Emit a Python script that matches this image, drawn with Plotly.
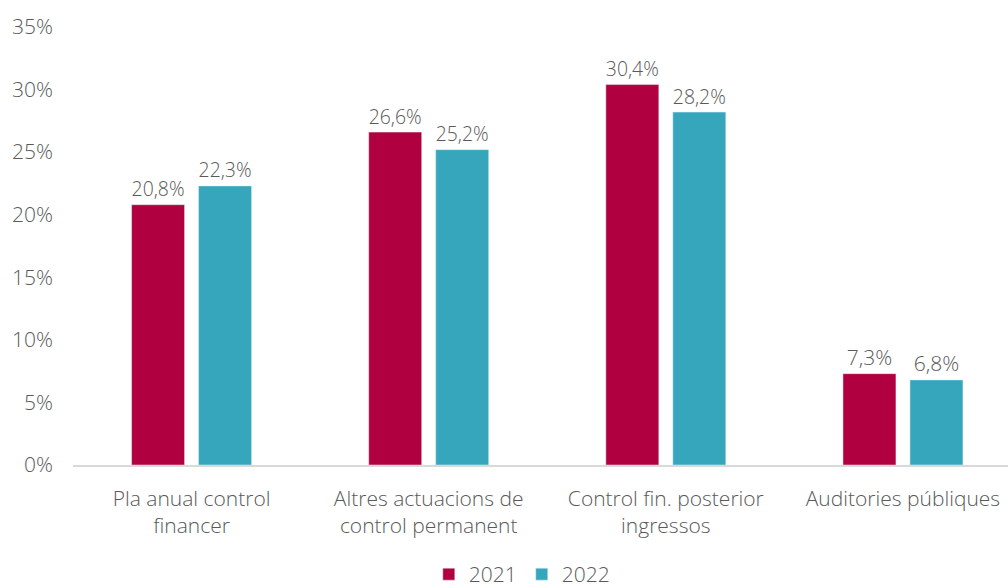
import plotly.graph_objects as go

categories = ["Pla anual control<br>financer", "Altres actuacions de<br>control permanent",
              "Control fin. posterior<br>ingressos", "Auditories públiques"]
series_names = ["2021", "2022"]
values_2021 = [20.8, 26.6, 30.4, 7.3]
values_2022 = [22.3, 25.2, 28.2, 6.8]
colors = ["#B0003F", "#36A6BC"]

FONT = "Open Sans"
GRAY = "#595959"
FS = 21

fig = go.Figure()
for name, vals, col in zip(series_names, [values_2021, values_2022], colors):
    fig.add_trace(go.Bar(
        x=categories, y=vals, name=name, marker_color=col,
        texttemplate="%{y:.1f}%", textposition="outside", cliponaxis=False,
        textfont=dict(family=FONT, size=FS, color=GRAY, weight=300),
    ))

fig.update_layout(
    width=1008, height=588,
    margin=dict(l=73, r=0, t=27, b=123, autoexpand=False),
    paper_bgcolor="white", plot_bgcolor="white",
    barmode="group", bargap=0.435, bargroupgap=0.209,
    separators=",.",
    font=dict(family=FONT, size=FS, color=GRAY, weight=300),
    legend=dict(orientation="h", x=0.48, xanchor="center", y=-0.25, yanchor="middle",
                font=dict(family=FONT, size=FS, color=GRAY, weight=300),
                itemwidth=30, traceorder="normal"),
    showlegend=True,
)
fig.update_xaxes(range=[-0.5, 3.443], showline=True, linecolor="#D9D9D9", linewidth=1.5,
                 ticks="", automargin=False, ticklabelstandoff=14,
                 tickfont=dict(family=FONT, size=FS, color=GRAY, weight=300))
fig.update_yaxes(range=[0, 35], dtick=5, ticksuffix="%", showgrid=False, zeroline=False,
                 showline=False, automargin=False,
                 tickfont=dict(family=FONT, size=FS, color=GRAY, weight=300),
                 ticklabelstandoff=19)

fig.write_html("out.html", config={"displayModeBar": False},
               post_script="document.body.style.margin='0';")
